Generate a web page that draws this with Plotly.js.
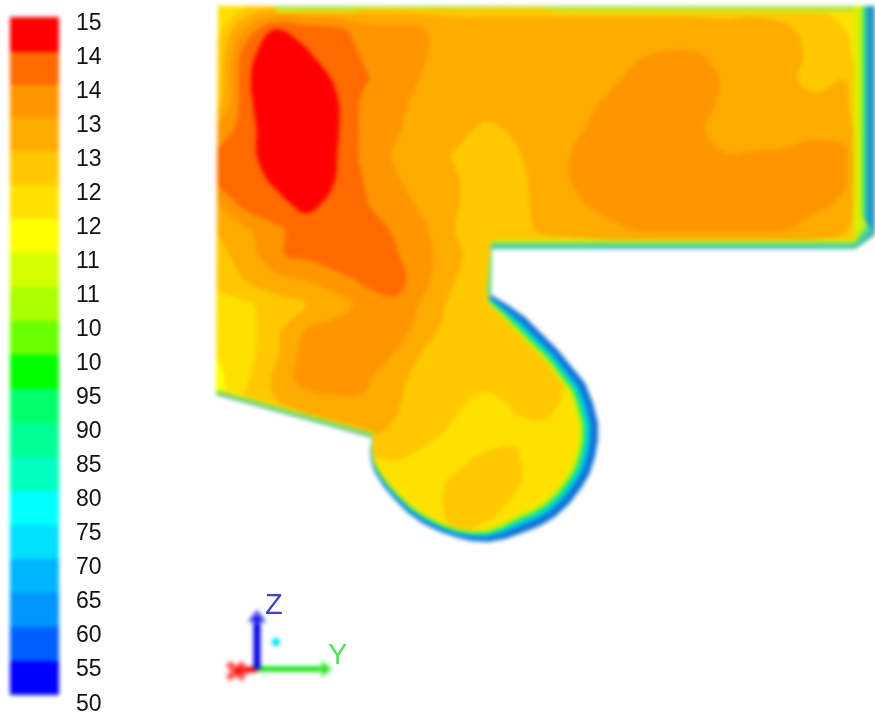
<!DOCTYPE html>
<html><head><meta charset="utf-8">
<script src="https://cdn.plot.ly/plotly-3.0.1.min.js"></script>
<style>html,body{margin:0;padding:0;background:#fff}#plot{width:875px;height:715px}
#plot .cartesianlayer{filter:blur(2px)}
#plot .infolayer{filter:blur(0.7px)}</style></head><body><div id="plot"></div>
<script>
// ---- legend ----
const bandColors = ['#0000ff','#0060ff','#0095ff','#00b4ff','#00e0ff','#00ffff','#00ffc0','#00ff95','#00ff6a','#00ff00',
  '#6aff00','#aaff00','#d4ff00','#ffff00','#ffe100','#ffc800','#ffab00','#ff9500','#ff6a00','#ff0000'];
const bandValues = [52.5,57.5,62.5,67.5,72.5,77.5,82.5,87.5,92.5,97.5,102.5,107.5,112.5,117.5,122.5,127.5,132.5,137.5,142.5,147.5];
const bandEdgesY = [695,661,627,593,559,525,491,457,423,389,355,321,287,253,219,185,151,117,85,52,17];
const tickLabels = ['15','14','14','13','13','12','12','11','11','10','10','95','90','85','80','75','70','65','60','55','50'];
const tickLabelY = [22,56,90,124,158,192,226,260,294,328,362,396,430,464,498,532,566,600,634,668,703];

// ---- field grid ----
const gridX = [215,245,275,305,335,365,395,425,455,485,515,545,575,605,635,665,695,725,755,785,815,845,875];
const gridY = [5,30,55,80,105,130,155,180,205,230,255,280,305,330,355,380,405,430,455,480,505,530,555];
const fieldZ = [
[120,124,127,128,128,127,127,127,127,128,128,128,128,128,128,128,128,128,128,127,125,122,118],
[122,136,145.5,143,141.5,137.5,136.5,135,133,132,132,132,132,132,132,132,132,131.5,132,131,128,125,120],
[124,143,148.5,146,142,139.5,137,135.2,133,132,132,132,132,133,134.5,135.5,135.5,133.5,132,131.5,129,127,118],
[125,144,149,149,144.5,140.5,137,134.5,132.5,132,132,132,132,134,136,137,137,134.5,132,131.5,128,130,118],
[127,143.5,149,150,146,138.5,136,133.5,132.5,132,132,132,133.5,135.5,137,137,137,134,132.5,132,132,131.5,118],
[136,142.5,149,150,146,138.5,135.5,133,131.5,129,130.5,132,134.3,136.5,137,137,136,133,132.5,132.5,134,134,118],
[141,143,148,150,145.5,138.5,134.5,133,129.5,127.5,129.5,132,135.5,137,137.5,137.5,136.5,135.2,135.5,136,136.5,135.5,118],
[141,142,146,148,145,139.7,135.5,133,130.5,127,128.5,132,135.5,137.5,138,138,138,138,138,138,138,135.5,118],
[134,141.5,143,146.5,143.5,140.5,137,134,130.5,127,128,132,134,136.5,137.5,137.5,137.5,137.5,137.5,137.5,136,134,118],
[130,134,139,142,143,142,139.5,135.5,130,127,128,131,132,133,135,135.5,135.5,135.5,135.5,135,133,131,118],
[129,131,139.5,141,143,143,140.5,136.5,131,127,127,125,125,125,125,125,125,125,125,125,125,125,118],
[128,130,133,135,138,141,142.5,136,130,127,125,125,125,125,125,125,125,125,125,125,125,125,125],
[121,124,127.5,129.5,132,137,138.5,134,128,126,125,125,125,125,125,125,125,125,125,125,125,125,125],
[121,123,128.5,135,137.5,138.5,138,132,127.5,127,126,125,125,125,125,125,125,125,125,125,125,125,125],
[120,123,129,137,138,138,134.5,129,127.5,127,127,127,124,125,125,125,125,125,125,125,125,125,125],
[118,124,131,137,138,136,131,128.5,127,127,127,127,124,125,125,125,125,125,125,125,125,125,125],
[118,126,129.5,131,133,134,130.5,127.5,126,123,125.5,126.5,123,125,125,125,125,125,125,125,125,125,125],
[120,125,127,128,130,131,129.5,127,124,122,124,124,120,125,125,125,125,125,125,125,125,125,125],
[122,124,125,125,125,125,126,124,122,125.5,125.5,122,120,125,125,125,125,125,125,125,125,125,125],
[122,122,122,122,122,122,122,122,126,127.5,126,122,119,125,125,125,125,125,125,125,125,125,125],
[122,122,122,122,122,122,122,122,127,127,124,120,120,125,125,125,125,125,125,125,125,125,125],
[122,122,122,122,122,122,122,122,125,124,120,120,120,125,125,125,125,125,125,125,125,125,125],
[122,122,122,122,122,122,122,122,122,122,122,122,122,125,125,125,125,125,125,125,125,125,125]
];

// ---- domain walls: outline points, band thickness, layer colours (inner to outer) ----
const topWallX = [275,350,365,430,540,560,875], topWallY = [6,6,6,6,6,6,6], topWallT = [7,7,4,3,3,7,8];
const topWallColors = ['#f0e000','#c8e830','#a8e048'];
const rightWallX = [875,875], rightWallY = [6,235], rightWallT = [21,21];
const rightWallColors = ['#d8f000','#40e880','#1e96c8'];
const floorWallX = [875,855,492,491], floorWallY = [235,249,249,295], floorWallT = [21,9,9,5];
const floorWallColors = ['#c8f020','#50e080','#40b8b8'];
const bulbX = [491,508,525,558,585,593,598,598,595,590,582,570,555,540,522,505,488,471,455,438,422,408,395,384,375,371,370,372];
const bulbY = [295,305,317,350,383,403,423,440,457,473,487,503,517,526,533,539,542,541,537,531,523,513,500,487,473,461,450,438];
const bulbT = [8,13,17,17,19,20,20,20,20,20,20,20,20,20,19,16,13,11,9,9,9,8,7,6,5,3,2,1];
const bulbColors = ['#d8f000','#20f070','#00c8e8','#1070d8'];
const lowerWallX = [372,216], lowerWallY = [438,395], lowerWallT = [6,6];
const lowerWallColors = ['#d0f020','#50e070','#70a8a0'];
const maskOuterX = [205,876,876], maskOuterY = [0,0,6];
const maskCloseX = [876,876,205], maskCloseY = [235,560,560];
const leftWallX = [218,216], leftWallY = [6,395];

// ---- axis triad ----
const triadZX = [257,257], triadZY = [669,618];
const triadYX = [257,325], triadYY = [669,669];
const triadXX = [257,236], triadXY = [669,671];

function scale(){
  const s=[]; const n=bandColors.length;
  bandColors.forEach((c,i)=>{s.push([i/n,c]);s.push([(i+1)/n,c]);});
  return s;
}
function strip(xs,ys,ts,f,color){
  const ix=[],iy=[];
  for(let i=0;i<xs.length;i++){
    const a=Math.max(i-1,0),b=Math.min(i+1,xs.length-1);
    const dx=xs[b]-xs[a],dy=ys[b]-ys[a],L=Math.hypot(dx,dy)||1;
    ix.push(xs[i]-dy/L*ts[i]*f); iy.push(ys[i]+dx/L*ts[i]*f);
  }
  return {type:'scatter',mode:'lines',x:xs.concat(ix.reverse()),y:ys.concat(iy.reverse()),fill:'toself',
    fillcolor:color,line:{width:0,color:color},hoverinfo:'skip',showlegend:false};
}
function wall(xs,ys,ts,colors,fr){return colors.map((c,i)=>strip(xs,ys,ts,fr[i],c));}

const data=[
 {type:'contour',x:gridX,y:gridY,z:fieldZ,zmin:50,zmax:150,colorscale:scale(),showscale:false,autocontour:false,
  contours:{coloring:'fill',start:50,end:150,size:5,showlines:false},line:{width:0,smoothing:1.3},hoverinfo:'skip'},
 ...wall(topWallX,topWallY,topWallT,topWallColors,[1,.7,.4]),
 ...wall(rightWallX,rightWallY,rightWallT,rightWallColors,[1,.62,.42]),
 ...wall(floorWallX,floorWallY,floorWallT,floorWallColors,[1,.66,.33]),
 ...wall(bulbX,bulbY,bulbT,bulbColors,[1,.78,.6,.38]),
 ...wall(lowerWallX,lowerWallY,lowerWallT,lowerWallColors,[1,.66,.3]),
 {type:'scatter',mode:'lines',
  x:maskOuterX.concat(leftWallX,lowerWallX.slice().reverse(),bulbX.slice().reverse(),floorWallX.slice().reverse(),maskCloseX),
  y:maskOuterY.concat(leftWallY,lowerWallY.slice().reverse(),bulbY.slice().reverse(),floorWallY.slice().reverse(),maskCloseY),
  fill:'toself',fillcolor:'#ffffff',line:{width:0,color:'#ffffff'},hoverinfo:'skip',showlegend:false},
 {type:'heatmap',x:[10,59],y:bandEdgesY,z:bandValues.map(v=>[v]),zmin:50,zmax:150,colorscale:scale(),showscale:false,hoverinfo:'skip'},
 {type:'scatter',mode:'lines+markers',x:triadXX,y:triadXY,line:{color:'#ff0000',width:6},
  marker:{size:[0,19],symbol:'x',color:'#ff0000'},hoverinfo:'skip',showlegend:false},
 {type:'scatter',mode:'lines+markers',x:triadYX,y:triadYY,line:{color:'#00e000',width:5},
  marker:{size:[0,16],symbol:'triangle-right',color:'#00e000'},hoverinfo:'skip',showlegend:false},
 {type:'scatter',mode:'lines+markers',x:triadZX,y:triadZY,line:{color:'#0000e0',width:7},
  marker:{size:[0,18],symbol:'triangle-up',color:'#0000e0'},hoverinfo:'skip',showlegend:false},
 {type:'scatter',mode:'markers',x:[276],y:[642],marker:{size:8,color:'#00e0f0'},hoverinfo:'skip',showlegend:false}
];
const labelAnn = tickLabels.map((t,i)=>({x:76,y:tickLabelY[i],xref:'x',yref:'y',text:t,showarrow:false,xanchor:'left',yanchor:'middle',
  font:{family:'Liberation Sans',size:23,color:'#111111'},xshift:-2}));
const triadAnn = [{t:'Z',x:274,y:604,c:'#4040c8'},{t:'Y',x:337,y:654,c:'#50e060'}].map(a=>({x:a.x,y:a.y,xref:'x',yref:'y',text:a.t,showarrow:false,
  font:{family:'Liberation Sans',size:29,color:a.c}}));
Plotly.newPlot('plot',data,{
 width:875,height:715,margin:{l:0,r:0,t:0,b:0},paper_bgcolor:'#fff',plot_bgcolor:'#fff',showlegend:false,
 xaxis:{range:[0,875],visible:false,fixedrange:true},
 yaxis:{range:[715,0],visible:false,fixedrange:true},
 annotations:labelAnn.concat(triadAnn)
},{displayModeBar:false,staticPlot:true});
</script></body></html>
